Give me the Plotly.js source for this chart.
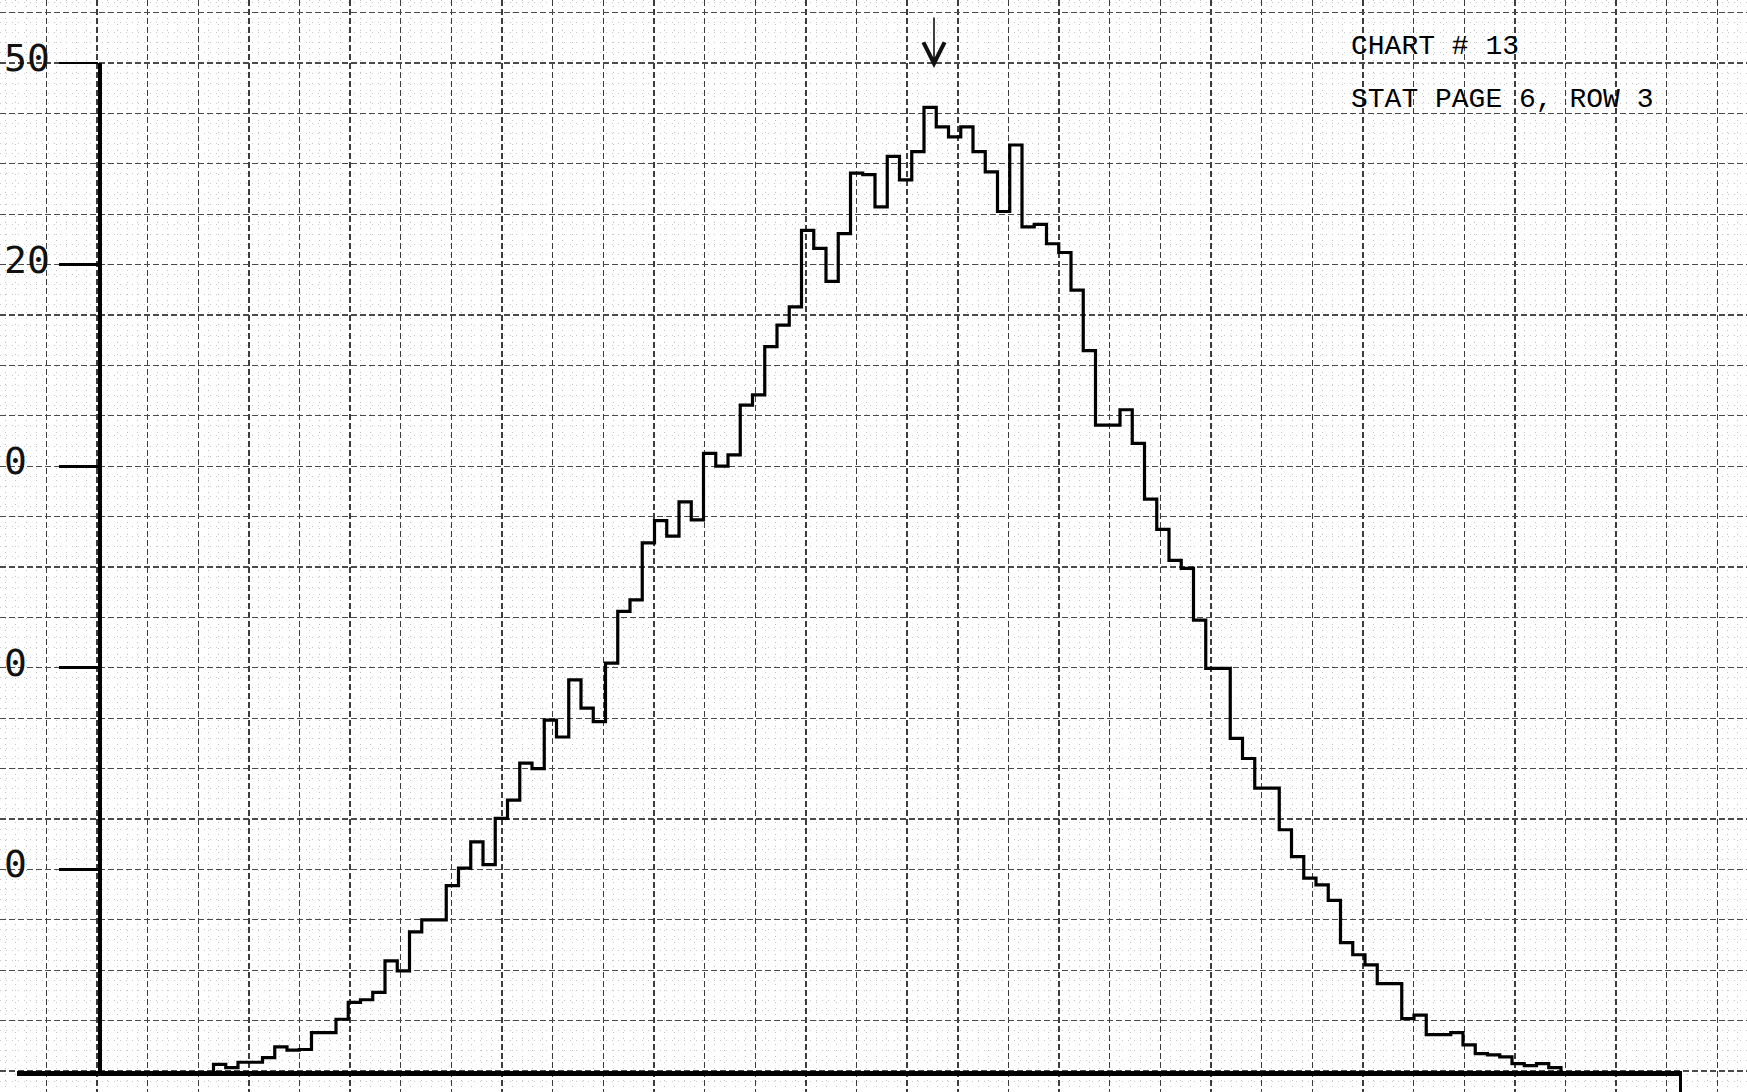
<!DOCTYPE html>
<html>
<head>
<meta charset="utf-8">
<script src="https://cdn.plot.ly/plotly-3.0.1.min.js"></script>
<style>
  html, body { margin: 0; padding: 0; background: #fff; }
  #chart { width: 1747px; height: 1092px; }
</style>
</head>
<body>
<div id="chart"></div>
<script>
// ---------------- data ----------------
// histogram counts, one per bin, left to right
const counts = [
  1.0, 0.5, 1.3, 1.3, 2.0, 3.6, 3.1, 3.2, 5.7, 5.7,
  7.7, 10.2, 10.6, 11.7, 16.4, 14.9, 20.7, 22.5, 22.5, 27.6,
  30.2, 34.1, 30.7, 37.6, 40.3, 45.8, 45.0, 52.2, 49.7, 58.2,
  54.0, 52.0, 60.7, 68.4, 70.1, 78.6, 81.9, 79.6, 84.7, 82.0,
  91.9, 90.0, 91.7, 99.1, 100.6, 107.8, 111.0, 113.7, 125.1, 122.4,
  117.5, 124.6, 133.6, 133.4, 128.6, 136.1, 132.6, 136.8, 143.4, 140.5,
  139.0, 140.5, 136.8, 133.8, 127.9, 137.8, 125.6, 126.0, 123.1, 121.8,
  116.2, 107.2, 96.1, 96.1, 98.4, 93.4, 85.1, 80.6, 76.0, 74.8,
  67.1, 59.9, 59.9, 49.5, 46.5, 42.1, 42.1, 35.9, 31.9, 28.7,
  27.7, 25.4, 19.1, 17.3, 15.8, 13.0, 13.0, 7.8, 8.3, 5.4,
  5.4, 5.7, 3.9, 2.6, 2.4, 2.1, 1.1, 0.8, 1.1, 0.5
];
// tick positions, and the tick labels exactly as they show in the scan
// (the leading digits are cut off by the left edge of the scanned page)
const yTickVals = [30, 60, 90, 120, 150];
const yTickText = ['0', '0', '0', '20', '50'];
const noteLines = ['CHART # 13', 'STAT PAGE 6, ROW 3'];

// ---------------- layout geometry (pixels of the 1747x1092 page) ----------------
const W = 1747, H = 1092;
const basePx = 1071, topPx = 63;          // y pixel of 0 and of 150
const yMax = 150;
const pxPerUnit = (basePx - topPx) / yMax;
const axisXPx = 100;                       // vertical axis position
const firstEdgePx = 213.5, binPx = 12.25;  // bin edges on the page
const lineLeftPx = 17, lineRightPx = 1682, endTickPx = 1680;
const gridPx = 50.64, gridX0 = 46.3;
const labelLeftPx = 2;

const toBin = p => (p - firstEdgePx) / binPx;

// step outline built from counts
const xs = [0], ys = [0];
counts.forEach((c, i) => { xs.push(i); ys.push(c); });
xs.push(counts.length); ys.push(0);

const traces = [
  { // carrier for the graph-paper grid subplot
    type: 'scatter', mode: 'lines', x: [null], y: [null],
    xaxis: 'x', yaxis: 'y', hoverinfo: 'skip', showlegend: false
  },
  {
    type: 'scatter', mode: 'lines', x: xs, y: ys,
    xaxis: 'x2', yaxis: 'y2',
    line: { shape: 'hv', color: '#000', width: 3.2 },
    hoverinfo: 'skip', showlegend: false
  }
];

const labelFont = { family: 'DejaVu Sans Mono', size: 38, color: '#111' };
const noteFont = { family: 'Liberation Mono', size: 28, color: '#000' };

const annotations = [];
yTickVals.forEach((v, i) => {
  annotations.push({
    xref: 'paper', x: labelLeftPx / W, xanchor: 'left',
    yref: 'y2', y: v, yanchor: 'middle', yshift: 5,
    text: yTickText[i], showarrow: false, font: labelFont
  });
});
noteLines.forEach((t, i) => {
  annotations.push({
    xref: 'paper', x: 1349 / W, xanchor: 'left',
    yref: 'paper', y: 1 - (47 + i * 52) / H, yanchor: 'middle',
    text: t, showarrow: false, font: noteFont
  });
});
// thin down-arrow marking the modal bin
annotations.push({
  xref: 'paper', x: 934 / W, yref: 'paper', y: 1 - 68 / H,
  ax: 0, ay: -52, axref: 'pixel', ayref: 'pixel',
  text: '', showarrow: true, arrowhead: 5, arrowsize: 2.6, arrowwidth: 1.6, arrowcolor: '#111'
});

const layout = {
  width: W, height: H,
  margin: { l: 0, r: 0, t: 0, b: 0, pad: 0 },
  paper_bgcolor: '#ffffff',
  plot_bgcolor: 'rgba(0,0,0,0)',
  showlegend: false,
  xaxis: {
    domain: [0, 1], range: [0, W], anchor: 'y',
    showgrid: true, gridcolor: '#3c3c3c', gridwidth: 1.4, griddash: '6px,3px',
    tick0: gridX0, dtick: gridPx,
    minor: { tick0: gridX0, dtick: gridPx / 5, showgrid: true, gridcolor: '#c2c2c2', gridwidth: 1, griddash: '1px,5px' },
    showticklabels: false, ticks: '', zeroline: false, showline: false, fixedrange: true
  },
  yaxis: {
    domain: [0, 1], range: [(basePx - H) / pxPerUnit, basePx / pxPerUnit], anchor: 'x',
    showgrid: true, gridcolor: '#4a4a4a', gridwidth: 1.1, griddash: '6px,3px',
    tick0: 0, dtick: 7.5,
    minor: { tick0: 0, dtick: 1.5, showgrid: true, gridcolor: '#c8c8c8', gridwidth: 1, griddash: '1px,5px' },
    showticklabels: false, ticks: '', zeroline: false, showline: false, fixedrange: true
  },
  xaxis2: {
    domain: [lineLeftPx / W, lineRightPx / W],
    range: [toBin(lineLeftPx), toBin(lineRightPx)],
    anchor: 'y2',
    showline: true, linecolor: '#000', linewidth: 4.5,
    showgrid: false, zeroline: false,
    tickmode: 'array', tickvals: [toBin(endTickPx)], ticks: 'outside', ticklen: 18, tickwidth: 3, tickcolor: '#000',
    showticklabels: false, fixedrange: true
  },
  yaxis2: {
    domain: [(H - basePx) / H, (H - topPx) / H],
    range: [0, yMax],
    anchor: 'free', position: axisXPx / W,
    showline: true, linecolor: '#000', linewidth: 4,
    showgrid: false, zeroline: false,
    tickmode: 'array', tickvals: yTickVals, ticks: 'outside', ticklen: 39, tickwidth: 2.6, tickcolor: '#000',
    showticklabels: false, fixedrange: true
  },
  annotations: annotations
};

Plotly.newPlot('chart', traces, layout, { displayModeBar: false, staticPlot: true });
</script>
</body>
</html>
